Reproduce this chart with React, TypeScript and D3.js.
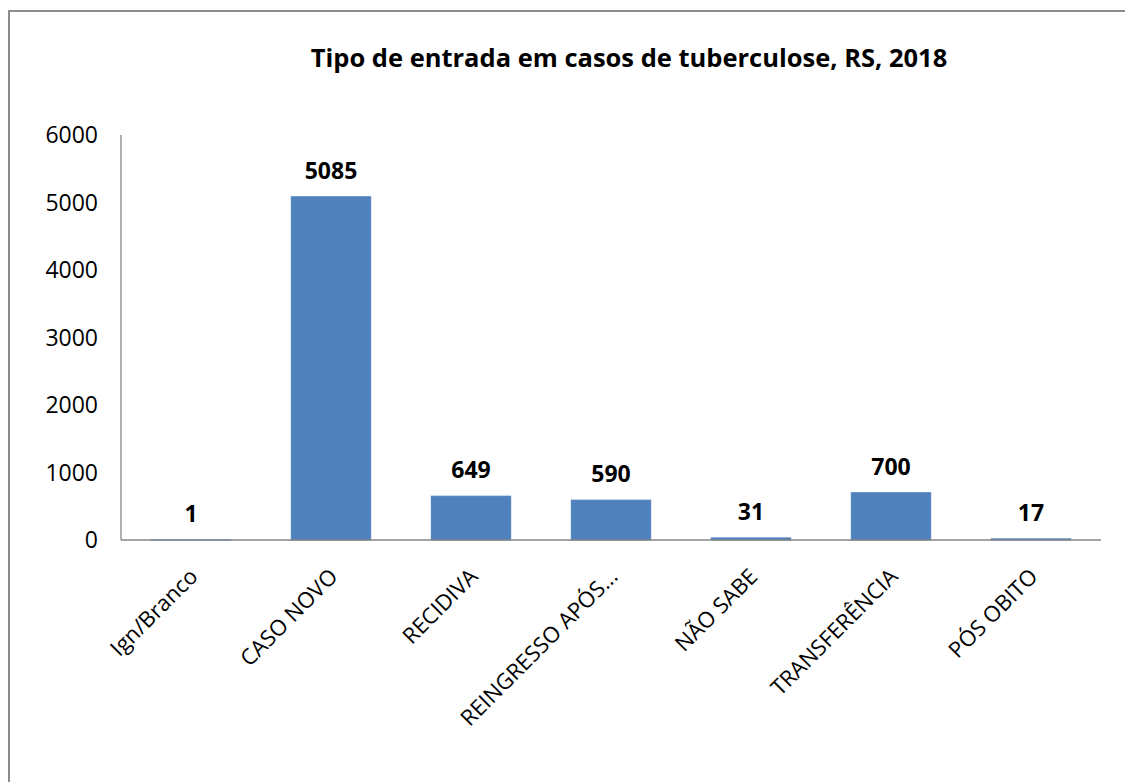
import React from 'react';
import * as d3 from 'd3';

// data
const categories = ['Ign/Branco', 'CASO NOVO', 'RECIDIVA', 'REINGRESSO APÓS...', 'NÃO SABE', 'TRANSFERÊNCIA', 'PÓS OBITO'];
const values = [1, 5085, 649, 590, 31, 700, 17];
const yTicks = [0, 1000, 2000, 3000, 4000, 5000, 6000];
const title = 'Tipo de entrada em casos de tuberculose, RS, 2018';

const W = 1125;
const H = 782;
const font = "'Open Sans', 'Noto Sans', sans-serif";

const App = () => {
	// plot area
	const left = 121, right = 1101, top = 135, bottom = 540;

	const x = d3.scaleBand<string>()
		.domain(categories)
		.range([left, right])
		.paddingInner(0.433)
		.paddingOuter(0.2165);
	const y = d3.scaleLinear().domain([0, 6000]).range([bottom, top]);

	return (
		<svg width={W} height={H} style={{ position: 'absolute', left: 0, top: 0, display: 'block', background: '#fff' }}>
			{/* chart frame, right and bottom edges fall off the page */}
			<rect x={9} y={11} width={W + 40} height={H + 40} fill="#fff" stroke="#8c8c8c" strokeWidth={2} />

			<text x={629} y={67} textAnchor="middle" fontFamily={font} fontWeight="bold" fontSize={25.5} fill="#000">
				{title}
			</text>

			{/* bars (thin stroke keeps the tiny ones visible, as in the original) */}
			{categories.map((c, i) => (
				<rect key={c} x={x(c)} y={y(values[i])} width={x.bandwidth()} height={bottom - y(values[i])}
					fill="#4f81bd" stroke="#4f81bd" strokeWidth={1} />
			))}

			{/* value labels */}
			{categories.map((c, i) => (
				<text key={'v' + c} x={(x(c) as number) + x.bandwidth() / 2} y={y(values[i]) - 18}
					textAnchor="middle" fontFamily={font} fontWeight="bold" fontSize={23} fill="#000">
					{values[i]}
				</text>
			))}

			{/* y axis */}
			<line x1={left} x2={left} y1={top} y2={bottom} stroke="#868686" strokeWidth={1.3} />
			{yTicks.map(t => (
				<text key={t} x={98} y={y(t)} dy="0.36em" textAnchor="end" fontFamily={font} fontSize={23} fill="#000">
					{t}
				</text>
			))}

			{/* x axis */}
			<line x1={left} x2={right} y1={bottom} y2={bottom} stroke="#868686" strokeWidth={1.3} />
			{categories.map(c => {
				const cx = (x(c) as number) + x.bandwidth() / 2;
				return (
					<text key={'c' + c} transform={`translate(${cx + 8},${578}) rotate(-45)`}
						textAnchor="end" fontFamily={font} fontSize={22} fill="#000">
						{c}
					</text>
				);
			})}
		</svg>
	);
};

export default App;
